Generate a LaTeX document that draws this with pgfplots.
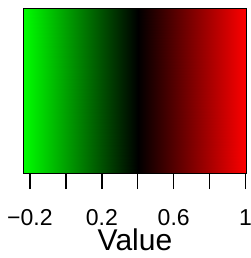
\documentclass[border=0pt]{standalone}
\usepackage{fontspec}
\setmainfont{Liberation Sans}
\usepackage{pgfplots}
\pgfplotsset{compat=1.18}
\begin{document}
\begin{tikzpicture}[x=1pt,y=1pt]
\useasboundingbox (0,0) rectangle (250,258);
\begin{axis}[
  at={(23.3pt,85pt)}, anchor=south west,
  scale only axis, width=223.4pt, height=164.7pt,
  xmin=-0.237, xmax=1.006, ymin=0, ymax=1,
  axis on top,
  ytick=\empty,
  xtick={-0.2,0,0.2,0.4,0.6,0.8,1},
  xticklabels={−0.2,,0.2,,0.6,,1},
  xtick pos=bottom, tick align=outside,
  major tick length=16pt,
  tick style={line width=1.4pt, black},
  axis line style={line width=0.8pt},
  xticklabel style={font=\fontsize{23}{23}\selectfont, anchor=base, yshift=-36pt},
  xlabel={Value},
  xlabel style={font=\fontsize{30}{30}\selectfont, at={(axis description cs:0.5,0)}, anchor=base, yshift=-77pt},
  colormap={gbr}{rgb(0)=(0,1,0) rgb(637)=(0,0,0) rgb(1243)=(1,0,0)},
  point meta min=-0.237, point meta max=1.006,
]
\addplot[surf, shader=interp, mesh/rows=2, point meta=x] coordinates {
  (-0.237,0) (0.4,0) (1.006,0)
  (-0.237,1) (0.4,1) (1.006,1)
};
\end{axis}
\end{tikzpicture}
\end{document}
